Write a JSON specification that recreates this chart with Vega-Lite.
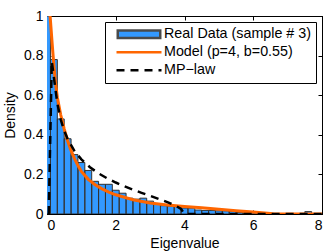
{
  "$schema": "https://vega.github.io/schema/vega-lite/v6.json",
  "width": 275,
  "height": 198,
  "autosize": {"type": "none"},
  "padding": {"left": 47, "top": 16, "right": 10, "bottom": 38},
  "background": "white",
  "config": {
    "font": "Liberation Sans",
    "view": {"stroke": "black", "strokeWidth": 1},
    "axis": {"domainColor": "black", "tickColor": "black", "labelColor": "black", "titleColor": "black", "grid": false, "labelFontSize": 14, "titleFontSize": 14, "titleFontWeight": "normal", "tickSize": -4, "labelPadding": 8}
  },
  "datasets": {
    "hist": [
      {"lo": -0.1, "hi": 0.1, "density": 1.0},
      {"lo": 0.1, "hi": 0.3, "density": 0.78},
      {"lo": 0.3, "hi": 0.5, "density": 0.48},
      {"lo": 0.5, "hi": 0.7, "density": 0.38},
      {"lo": 0.7, "hi": 0.9, "density": 0.30},
      {"lo": 0.9, "hi": 1.1, "density": 0.26},
      {"lo": 1.1, "hi": 1.3, "density": 0.22},
      {"lo": 1.3, "hi": 1.5, "density": 0.165},
      {"lo": 1.5, "hi": 1.7, "density": 0.15},
      {"lo": 1.7, "hi": 1.9, "density": 0.15},
      {"lo": 1.9, "hi": 2.1, "density": 0.12},
      {"lo": 2.1, "hi": 2.3, "density": 0.105},
      {"lo": 2.3, "hi": 2.5, "density": 0.08},
      {"lo": 2.5, "hi": 2.7, "density": 0.075},
      {"lo": 2.7, "hi": 2.9, "density": 0.08},
      {"lo": 2.9, "hi": 3.1, "density": 0.065},
      {"lo": 3.1, "hi": 3.3, "density": 0.05},
      {"lo": 3.3, "hi": 3.5, "density": 0.042},
      {"lo": 3.5, "hi": 3.7, "density": 0.04},
      {"lo": 3.7, "hi": 3.9, "density": 0.038},
      {"lo": 3.9, "hi": 4.1, "density": 0.03},
      {"lo": 4.1, "hi": 4.3, "density": 0.03},
      {"lo": 4.3, "hi": 4.5, "density": 0.02},
      {"lo": 4.5, "hi": 4.7, "density": 0.018},
      {"lo": 4.7, "hi": 4.9, "density": 0.018},
      {"lo": 4.9, "hi": 5.1, "density": 0.016},
      {"lo": 5.1, "hi": 5.3, "density": 0.016},
      {"lo": 5.3, "hi": 5.5, "density": 0.014},
      {"lo": 5.5, "hi": 5.7, "density": 0.008},
      {"lo": 5.7, "hi": 5.9, "density": 0.005},
      {"lo": 5.9, "hi": 6.1, "density": 0.005},
      {"lo": 6.1, "hi": 6.3, "density": 0.005},
      {"lo": 6.3, "hi": 6.5, "density": 0.004},
      {"lo": 7.5, "hi": 7.7, "density": 0.012}
    ],
    "model": [
      {"x": 0.09, "y": 1.0}, {"x": 0.15, "y": 0.86}, {"x": 0.2, "y": 0.75}, {"x": 0.25, "y": 0.66},
      {"x": 0.3, "y": 0.59}, {"x": 0.4, "y": 0.5}, {"x": 0.5, "y": 0.43}, {"x": 0.6, "y": 0.37},
      {"x": 0.7, "y": 0.32}, {"x": 0.8, "y": 0.28}, {"x": 0.9, "y": 0.245}, {"x": 1.0, "y": 0.215},
      {"x": 1.2, "y": 0.175}, {"x": 1.4, "y": 0.148}, {"x": 1.6, "y": 0.127}, {"x": 1.8, "y": 0.11},
      {"x": 2.0, "y": 0.097}, {"x": 2.5, "y": 0.072}, {"x": 3.0, "y": 0.056}, {"x": 3.5, "y": 0.046},
      {"x": 4.0, "y": 0.038}, {"x": 4.5, "y": 0.031}, {"x": 5.0, "y": 0.024}, {"x": 5.5, "y": 0.017},
      {"x": 6.0, "y": 0.01}, {"x": 6.5, "y": 0.003}, {"x": 6.6, "y": 0.0}, {"x": 8.0, "y": 0.0}
    ],
    "mp": [
      {"x": 0.05, "y": 0.0}, {"x": 0.14, "y": 0.77}, {"x": 0.2, "y": 0.69}, {"x": 0.3, "y": 0.56},
      {"x": 0.4, "y": 0.477}, {"x": 0.5, "y": 0.421}, {"x": 0.6, "y": 0.379}, {"x": 0.8, "y": 0.318},
      {"x": 1.0, "y": 0.276}, {"x": 1.25, "y": 0.236}, {"x": 1.5, "y": 0.205}, {"x": 1.75, "y": 0.18},
      {"x": 2.0, "y": 0.159}, {"x": 2.25, "y": 0.14}, {"x": 2.5, "y": 0.123}, {"x": 2.75, "y": 0.107},
      {"x": 3.0, "y": 0.092}, {"x": 3.25, "y": 0.076}, {"x": 3.5, "y": 0.06}, {"x": 3.75, "y": 0.041},
      {"x": 3.9, "y": 0.025}, {"x": 4.0, "y": 0.0}, {"x": 8.0, "y": 0.0}
    ]
  },
  "resolve": {"axis": {"x": "independent", "y": "independent"}},
  "layer": [
    {
      "data": {"name": "hist"},
      "mark": {"type": "bar", "clip": true},
      "encoding": {
        "x": {"field": "lo", "type": "quantitative", "scale": {"domain": [0, 8], "nice": false}, "axis": {"orient": "bottom", "values": [0, 2, 4, 6, 8], "title": "Eigenvalue", "titlePadding": 4}},
        "x2": {"field": "hi"},
        "y": {"field": "density", "type": "quantitative", "stack": null, "scale": {"domain": [0, 1], "nice": false}, "axis": {"orient": "left", "values": [0, 0.2, 0.4, 0.6, 0.8, 1], "format": "~g", "title": "Density", "titlePadding": 6}},
        "y2": {"datum": 0},
        "color": {
          "datum": "Real Data (sample # 3)",
          "type": "nominal",
          "scale": {"domain": ["Real Data (sample # 3)", "Model (p=4, b=0.55)", "MP−law"], "range": ["#3399ff", "#ff6600", "#000000"]},
          "legend": {
            "title": null,
            "orient": "top-right",
            "offset": 6,
            "padding": 4,
            "strokeColor": "black",
            "fillColor": "white",
            "labelFontSize": 14.3,
            "labelColor": "black",
            "symbolSize": 2025,
            "symbolOffset": 6,
            "clipHeight": 16.5,
            "labelOffset": 1,
            "rowPadding": 1,
            "symbolType": {"expr": "datum.value == 'Real Data (sample # 3)' ? 'M-0.944,-0.167H0.944V0.167H-0.944Z' : 'M-1,0H1'"},
            "symbolStrokeColor": {"expr": "datum.value == 'Real Data (sample # 3)' ? '#4a4a4a' : datum.value == 'MP−law' ? '#000000' : '#ff6600'"},
            "symbolStrokeWidth": 2.5,
            "symbolDash": {"expr": "datum.value == 'MP−law' ? [8, 6] : [1, 0]"},
            "symbolOpacity": 1
          }
        }
      }
    },
    {
      "data": {"name": "hist"},
      "mark": {"type": "bar", "clip": true, "fill": null, "fillOpacity": 0, "stroke": "#333333", "strokeWidth": 1},
      "encoding": {
        "x": {"field": "lo", "type": "quantitative", "axis": null},
        "x2": {"field": "hi"},
        "y": {"field": "density", "type": "quantitative", "stack": null, "axis": null},
        "y2": {"datum": 0}
      }
    },
    {
      "data": {"name": "model"},
      "mark": {"type": "line", "strokeWidth": 3, "clip": true, "color": "#ff6600"},
      "encoding": {
        "x": {"field": "x", "type": "quantitative", "axis": {"orient": "top", "values": [0, 2, 4, 6, 8], "labels": false, "title": null}},
        "y": {"field": "y", "type": "quantitative", "axis": {"orient": "right", "values": [0, 0.2, 0.4, 0.6, 0.8, 1], "labels": false, "title": null}}
      }
    },
    {
      "data": {"name": "mp"},
      "mark": {"type": "line", "strokeWidth": 2.5, "strokeDash": [8, 6], "clip": true, "color": "#000000"},
      "encoding": {
        "x": {"field": "x", "type": "quantitative", "axis": null},
        "y": {"field": "y", "type": "quantitative", "axis": null}
      }
    }
  ]
}
